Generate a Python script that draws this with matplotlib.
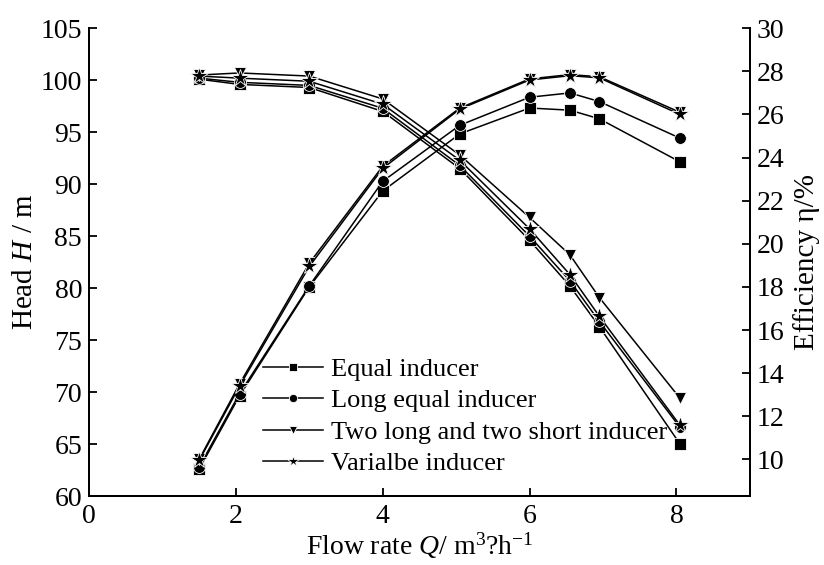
import matplotlib
matplotlib.use('Agg')
import matplotlib.pyplot as plt

plt.rcParams['font.family'] = ['Liberation Serif', 'DejaVu Serif']
plt.rcParams['mathtext.fontset'] = 'custom'
plt.rcParams['mathtext.rm'] = 'Liberation Serif'
plt.rcParams['mathtext.it'] = 'Liberation Serif:italic'

# flow rate, m3/h
flow = [1.5, 2.05, 3.0, 4.0, 5.05, 6.0, 6.55, 6.95, 8.05]

labels = ['Equal inducer', 'Long equal inducer',
          'Two long and two short inducer', 'Varialbe inducer']
markers = ['s', 'o', 'v', '*']

# head, m
head_equal = [100.1, 99.6, 99.3, 97.0, 91.5, 84.6, 80.2, 76.3, 65.0]
head_long = [100.2, 99.8, 99.5, 97.3, 91.8, 85.0, 80.7, 76.8, 66.6]
head_two = [100.5, 100.7, 100.4, 98.2, 92.8, 86.8, 83.2, 79.1, 69.4]
head_var = [100.4, 100.2, 99.9, 97.7, 92.3, 85.7, 81.3, 77.3, 66.8]

# efficiency, %
eff_equal = [9.55, 12.95, 18.0, 22.45, 25.1, 26.3, 26.2, 25.8, 23.8]
eff_long = [9.65, 13.05, 18.05, 22.9, 25.5, 26.8, 27.0, 26.6, 24.9]
eff_two = [10.0, 13.5, 19.1, 23.6, 26.3, 27.65, 27.85, 27.75, 26.1]
eff_var = [9.95, 13.4, 18.95, 23.5, 26.25, 27.6, 27.8, 27.7, 26.0]

heads = [head_equal, head_long, head_two, head_var]
effs = [eff_equal, eff_long, eff_two, eff_var]

fig = plt.figure(figsize=(8.24, 5.65), dpi=100)
ax = fig.add_axes([0.108, 0.122, 0.802, 0.828])
ax2 = ax.twinx()

style = dict(color='black', lw=1.1, mec='white', mew=0.6)
handles = []
for h, e, m, lab in zip(heads, effs, markers, labels):
    ms = 13 if m == '*' else 8.5
    line, = ax.plot(flow, h, marker=m, ms=ms, label=lab, **style)
    ax2.plot(flow, e, marker=m, ms=ms, **style)
    handles.append(line)

ax.set_xlim(0, 9)
ax.set_ylim(60, 105)
ax2.set_ylim(8.3, 30)
ax.set_xticks([0, 2, 4, 6, 8])
ax.set_yticks(range(60, 106, 5))
ax2.set_yticks(range(10, 31, 2))

for a in (ax, ax2):
    a.spines['top'].set_visible(False)
    for s in a.spines.values():
        s.set_linewidth(1.4)
    a.tick_params(direction='in', length=6, width=1.3, labelsize=20, pad=5)
ax.tick_params(axis='x', pad=6)

ax.set_xlabel('Flow rate $Q$/ m$^3$?h$^{-1}$', fontsize=20, labelpad=1)
ax.set_ylabel('Head $H$ / m', fontsize=21, labelpad=2)
ax2.set_ylabel('Efficiency η/%', fontsize=21, labelpad=6)

ax.legend(handles=handles, loc='lower left', bbox_to_anchor=(0.235, 0.005),
          frameon=False, fontsize=19, labelspacing=0.3, handlelength=2.3,
          handletextpad=0.3, markerscale=0.7, borderpad=0.2)

fig.savefig('out.png', dpi=100)
